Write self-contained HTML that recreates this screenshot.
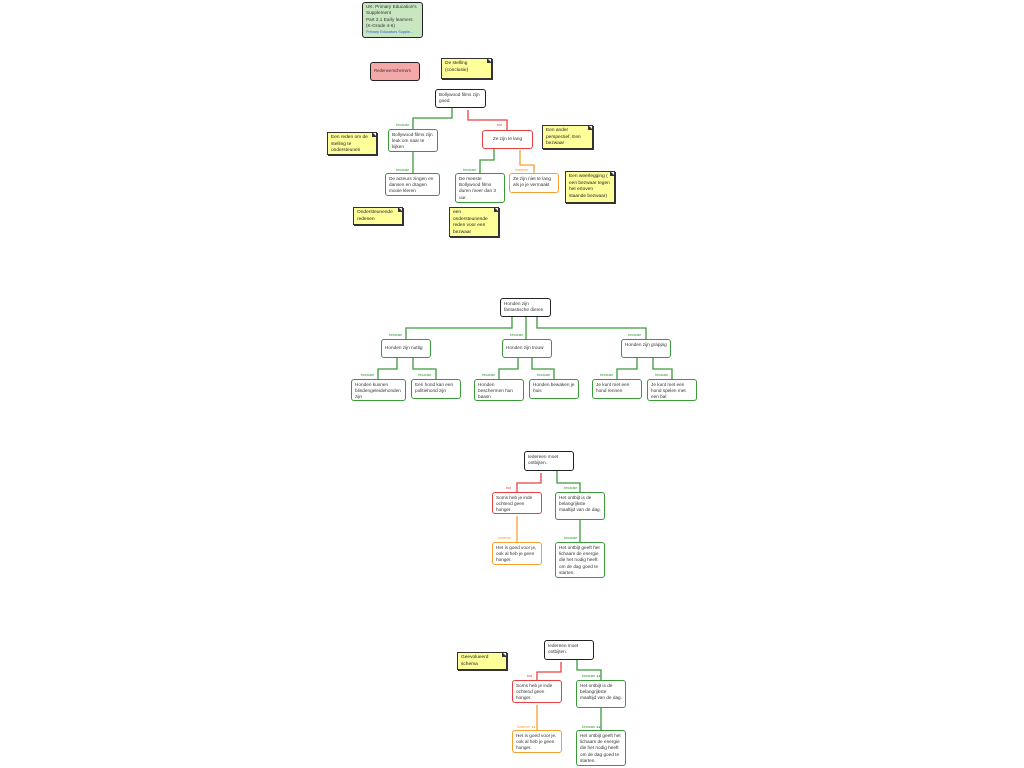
<!DOCTYPE html><html><head><meta charset="utf-8"><style>
body{margin:0;width:1024px;height:768px;background:#fff;position:relative;overflow:hidden;font-family:"Liberation Sans",sans-serif}
.b{position:absolute;box-sizing:border-box;background:#fff;border:1.3px solid #222;border-radius:3px;font-size:4.7px;line-height:6.4px;color:#333;padding:1.5px 3px;overflow:hidden}
.g{border-color:#3a9a3a}.r{border-color:#e84040}.o{border-color:#f5a030}
.n{position:absolute;box-sizing:border-box;background:#ffff99;border:1px solid #333;box-shadow:1px 1px 0 #333;font-size:4.8px;line-height:6.5px;color:#222;padding:2px 3px;overflow:hidden}
.n:after{content:"";position:absolute;right:-1px;top:-1px;border-style:solid;border-width:0 5px 5px 0;border-color:#fff #fff #333 #333}
.c{display:flex;align-items:center}
.l{position:absolute;font-size:3.5px;color:#3a9a3a}
svg{position:absolute;left:0;top:0}
</style></head><body>
<svg width="1024" height="768" fill="none" stroke-width="1.3">
<g stroke="#3a9a3a">
<polyline points="452,108 452,118 413,118 413,129"/><polyline points="413,152 413,173"/>
<polyline points="494,149 494,160 480,160 480,173"/>
<polyline points="512,317 512,328 406,328 406,339"/><polyline points="526,317 526,339"/><polyline points="537,317 537,328 646,328 646,339"/>
<polyline points="397,358 397,369 378,369 378,379"/><polyline points="413,358 413,369 436,369 436,379"/>
<polyline points="518,358 518,369 499,369 499,379"/><polyline points="532,358 532,369 554,369 554,379"/>
<polyline points="637,358 637,369 617,369 617,379"/><polyline points="653,358 653,369 672,369 672,379"/>
<polyline points="557,471 557,483 580,483 580,492"/><polyline points="580,520 580,542"/>
<polyline points="577,660 577,670 601,670 601,680"/><polyline points="601,708 601,730"/>
</g>
<g stroke="#e84040"><polyline points="468,110 468,120 507,120 507,130"/><polyline points="541,473 541,483 517,483 517,492"/><polyline points="561,662 561,672 537,672 537,680"/></g>
<g stroke="#f5a030"><polyline points="520,150 520,165 534,165 534,173"/><polyline points="517,516 517,542"/><polyline points="537,705 537,730"/></g>
</svg>
<div class="b" style="left:362px;top:2px;width:61px;height:36px;background:#c8e6c0;line-height:6.3px;padding-top:1px">UK: Primary Education's Supplement<br>Part 2.1 Early learners (K-Grade 4-6)<br><span style="color:#3355dd;font-size:3.8px">Primary Educators Supple...</span></div>
<div class="b c" style="left:370px;top:62px;width:50px;height:19px;background:#f4a8a8;font-size:4.3px">Redeneerschema's</div>
<div class="n" style="left:441px;top:58px;width:51px;height:21px">De stelling (conclusie)</div>
<div class="b" style="left:435px;top:89px;width:51px;height:19px">Bollywood films zijn goed</div>
<div class="l" style="left:396px;top:123px">because</div>
<div class="b g" style="left:388px;top:129px;width:50px;height:23px">Bollywood films zijn leuk om naar te kijken</div>
<div class="n" style="left:327px;top:132px;width:50px;height:23px">Een reden om de stelling te ondersteunen</div>
<div class="l" style="left:497px;top:123px;color:#e84040">but</div>
<div class="b r c" style="left:482px;top:130px;width:51px;height:19px;justify-content:center">Ze zijn te lang</div>
<div class="n" style="left:542px;top:125px;width:51px;height:24px">Een ander perspectief. Een bezwaar</div>
<div class="l" style="left:396px;top:168px">because</div>
<div class="b g" style="left:385px;top:173px;width:55px;height:23px">De acteurs zingen en dansen en dragen mooie kleren</div>
<div class="l" style="left:463px;top:168px">because</div>
<div class="b g" style="left:455px;top:173px;width:50px;height:30px">De meeste Bollywood films duren meer dan 3 uur.</div>
<div class="l" style="left:515px;top:168px;color:#f5a030">however</div>
<div class="b o" style="left:509px;top:173px;width:50px;height:20px">Ze zijn niet te lang als je je vermaakt</div>
<div class="n" style="left:565px;top:171px;width:50px;height:32px">Een weerlegging ( een bezwaar tegen het ertoven staande bezwaar)</div>
<div class="n" style="left:353px;top:207px;width:50px;height:18px">Ondersteunende redenen</div>
<div class="n" style="left:449px;top:207px;width:50px;height:30px">een ondersteunende reden voor een bezwaar</div>

<div class="b" style="left:500px;top:298px;width:51px;height:19px">Honden zijn fantastische dieren</div>
<div class="l" style="left:389px;top:333px">because</div><div class="l" style="left:510px;top:333px">because</div><div class="l" style="left:628px;top:333px">because</div>
<div class="b g c" style="left:381px;top:339px;width:50px;height:19px">Honden zijn nuttig</div>
<div class="b g c" style="left:502px;top:339px;width:50px;height:19px">Honden zijn trouw</div>
<div class="b g" style="left:621px;top:339px;width:50px;height:19px">Honden zijn grappig</div>
<div class="l" style="left:361px;top:373px">because</div><div class="l" style="left:418px;top:373px">because</div><div class="l" style="left:482px;top:373px">because</div><div class="l" style="left:537px;top:373px">because</div><div class="l" style="left:600px;top:373px">because</div><div class="l" style="left:655px;top:373px">because</div>
<div class="b g" style="left:351px;top:379px;width:55px;height:22px">Honden kunnen blindengeleidehonden zijn</div>
<div class="b g" style="left:411px;top:379px;width:50px;height:20px">Een hond kan een politiehond zijn</div>
<div class="b g" style="left:474px;top:379px;width:50px;height:22px">Honden beschermen hun baasn</div>
<div class="b g" style="left:529px;top:379px;width:50px;height:20px">Honden bewaken je huis</div>
<div class="b g" style="left:592px;top:379px;width:50px;height:20px">Je kunt met een hond rennen</div>
<div class="b g" style="left:647px;top:379px;width:50px;height:22px">Je kunt met een hond spelen met een bal</div>

<div class="b" style="left:524px;top:451px;width:50px;height:20px">Iedereen moet ontbijten.</div>
<div class="l" style="left:506px;top:486px;color:#e84040">but</div><div class="l" style="left:564px;top:486px">because</div>
<div class="b r" style="left:492px;top:492px;width:50px;height:22px">Soms heb je inde ochtend geen honger.</div>
<div class="b g" style="left:555px;top:492px;width:50px;height:28px">Het ontbijt is de belangrijkste maaltijd van de dag.</div>
<div class="l" style="left:498px;top:536px;color:#f5a030">however</div><div class="l" style="left:564px;top:536px">because</div>
<div class="b o" style="left:492px;top:542px;width:50px;height:23px">Het is goed voor je, ook al heb je geen honger.</div>
<div class="b g" style="left:555px;top:542px;width:50px;height:36px">Het ontbijt geeft het lichaam de energie die het nodig heeft om de dag goed te starten.</div>

<div class="n" style="left:457px;top:652px;width:50px;height:18px">Geevolueerd schema</div>
<div class="b" style="left:544px;top:640px;width:50px;height:20px">Iedereen moet ontbijten.</div>
<div class="l" style="left:527px;top:674px;color:#e84040">but</div><div class="l" style="left:582px;top:674px">because ●●</div>
<div class="b r" style="left:512px;top:680px;width:50px;height:23px">Soms heb je inde ochtend geen honger.</div>
<div class="b g" style="left:576px;top:680px;width:50px;height:28px">Het ontbijt is de belangrijkste maaltijd van de dag.</div>
<div class="l" style="left:517px;top:725px;color:#f5a030">however ●●</div><div class="l" style="left:582px;top:725px">because ●●</div>
<div class="b o" style="left:512px;top:730px;width:50px;height:23px">Het is goed voor je, ook al heb je geen honger.</div>
<div class="b g" style="left:576px;top:730px;width:50px;height:36px">Het ontbijt geeft het lichaam de energie die het nodig heeft om de dag goed te starten.</div>
</body></html>
